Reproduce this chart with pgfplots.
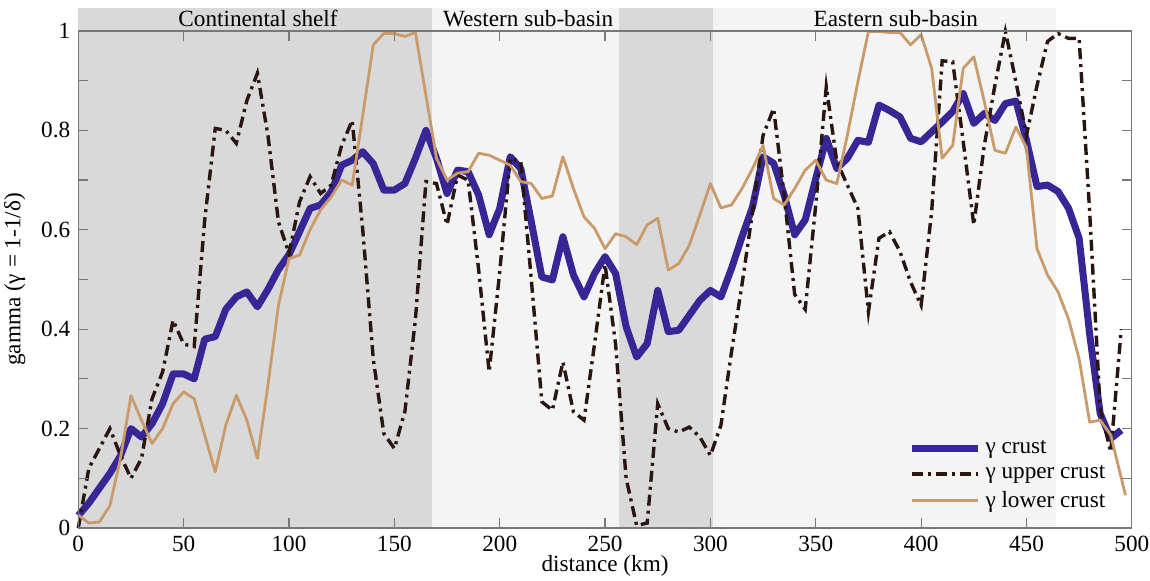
\documentclass[border=0pt]{standalone}
\usepackage{fontspec}
\setmainfont{Liberation Serif}
\usepackage{pgfplots}
\pgfplotsset{compat=1.18}
\definecolor{crustblue}{RGB}{56,38,150}
\definecolor{upperbrown}{RGB}{42,22,16}
\definecolor{lowertan}{RGB}{201,155,106}
\definecolor{bandDark}{RGB}{217,217,217}
\definecolor{bandLight}{RGB}{244,244,244}
\definecolor{axgray}{RGB}{120,120,120}
\begin{document}
\fontsize{11.6}{13.9}\selectfont
\begin{tikzpicture}
\begin{axis}[
  scale only axis, width=526.75pt, height=248.5pt,
  xmin=0, xmax=500, ymin=0, ymax=1,
  xtick={0,50,...,500},
  ytick={0,0.2,0.4,0.6,0.8,1},
  yticklabels={0,0.2,0.4,0.6,0.8,1},
  minor ytick={0.1,0.3,0.5,0.7,0.9},
  tick align=inside, major tick length=5pt, minor tick length=5pt,
  tick style={axgray, line width=0.6pt},
  axis line style={axgray, line width=0.6pt},
  axis on top, clip=false,
  /pgf/number format/assume math mode=true,
  tick label style={font=\fontsize{11.6}{13.9}\selectfont, black},
  label style={font=\fontsize{11.6}{13.9}\selectfont},
  xlabel={distance (km)},
  xlabel style={yshift=6pt},
  ylabel={gamma (γ = 1-1/δ)},
  legend style={at={(rel axis cs:0.979,0.026)}, anchor=south east, draw=none, fill=none,
    font=\fontsize{11.6}{13.9}\selectfont, row sep=0.5pt, inner sep=0pt, cells={anchor=west}},
  legend image code/.code={\draw[#1] (0pt,0pt) -- (33pt,0pt);},
]
\fill[bandDark] (0,0) rectangle (168,1.046);
\fill[bandLight] (168,0) rectangle (256.5,1.046);
\fill[bandDark] (256.5,0) rectangle (301.2,1.046);
\fill[bandLight] (301.2,0) rectangle (464,1.046);
\node[anchor=base] at (85.3,1.010) {Continental shelf};
\node[anchor=base] at (213.5,1.010) {Western sub-basin};
\node[anchor=base] at (388,1.010) {Eastern sub-basin};

\addplot[crustblue, line width=3.5pt, line join=round] coordinates {
(0,0.025)(5,0.05)(10,0.08)(15,0.11)(20,0.145)(25,0.20)(30,0.183)(35,0.21)(40,0.25)(45,0.31)
(50,0.31)(55,0.30)(60,0.38)(65,0.385)(70,0.44)(75,0.465)(80,0.475)(85,0.445)(90,0.48)(95,0.52)
(100,0.55)(105,0.596)(110,0.643)(115,0.65)(120,0.676)(125,0.73)(130,0.74)(135,0.757)(140,0.733)(145,0.68)
(150,0.68)(155,0.693)(160,0.744)(165,0.80)(170,0.744)(175,0.673)(180,0.72)(185,0.717)(190,0.67)(195,0.59)
(200,0.643)(205,0.747)(210,0.723)(215,0.616)(220,0.505)(225,0.499)(230,0.586)(235,0.509)(240,0.465)(245,0.512)
(250,0.546)(255,0.512)(260,0.405)(265,0.344)(270,0.371)(275,0.478)(280,0.395)(285,0.398)(290,0.428)(295,0.458)
(300,0.478)(305,0.465)(310,0.522)(315,0.586)(320,0.646)(325,0.747)(330,0.734)(335,0.67)(340,0.59)(345,0.62)
(350,0.703)(355,0.784)(360,0.723)(365,0.744)(370,0.78)(375,0.776)(380,0.851)(385,0.84)(390,0.827)(395,0.784)
(400,0.777)(405,0.797)(410,0.817)(415,0.838)(420,0.874)(425,0.814)(430,0.834)(435,0.82)(440,0.854)(445,0.859)
(450,0.78)(455,0.687)(460,0.69)(465,0.677)(470,0.643)(475,0.583)(480,0.39)(485,0.23)(490,0.18)(495,0.197)
};
\addlegendentry{γ crust}

\addplot[upperbrown, line width=1.7pt, dash pattern=on 5.5pt off 2.5pt on 1.5pt off 2.5pt] coordinates {
(0,0.0)(5,0.12)(10,0.16)(15,0.20)(20,0.146)(25,0.10)(30,0.14)(35,0.26)(40,0.314)(45,0.418)
(50,0.37)(55,0.365)(60,0.62)(65,0.804)(70,0.80)(75,0.774)(80,0.86)(85,0.915)(90,0.79)(95,0.616)
(100,0.552)(105,0.656)(110,0.707)(115,0.673)(120,0.69)(125,0.77)(130,0.82)(135,0.60)(140,0.34)(145,0.19)
(150,0.16)(155,0.234)(160,0.42)(165,0.697)(170,0.693)(175,0.61)(180,0.71)(185,0.70)(190,0.52)(195,0.314)
(200,0.515)(205,0.744)(210,0.737)(215,0.50)(220,0.254)(225,0.237)(230,0.334)(235,0.234)(240,0.217)(245,0.37)
(250,0.53)(255,0.37)(260,0.10)(265,0.005)(270,0.01)(275,0.25)(280,0.20)(285,0.193)(290,0.203)(295,0.183)
(300,0.146)(305,0.207)(310,0.354)(315,0.49)(320,0.636)(325,0.79)(330,0.844)(335,0.67)(340,0.47)(345,0.44)
(350,0.65)(355,0.888)(360,0.737)(365,0.69)(370,0.643)(375,0.435)(380,0.583)(385,0.596)(390,0.556)(395,0.495)
(400,0.448)(405,0.636)(410,0.94)(415,0.938)(420,0.777)(425,0.61)(430,0.77)(435,0.89)(440,0.999)(445,0.898)
(450,0.79)(455,0.89)(460,0.979)(465,0.995)(470,0.985)(475,0.985)(480,0.636)(485,0.24)(490,0.153)(495,0.40)
};
\addlegendentry{γ upper crust}

\addplot[lowertan, line width=1.4pt, line join=round] coordinates {
(0,0.026)(5,0.01)(10,0.012)(15,0.045)(20,0.14)(25,0.266)(30,0.217)(35,0.17)(40,0.20)(45,0.25)
(50,0.274)(55,0.26)(60,0.187)(65,0.113)(70,0.207)(75,0.267)(80,0.217)(85,0.14)(90,0.287)(95,0.448)
(100,0.542)(105,0.549)(110,0.60)(115,0.64)(120,0.666)(125,0.70)(130,0.69)(135,0.83)(140,0.972)(145,0.995)
(150,0.995)(155,0.989)(160,0.997)(165,0.87)(170,0.744)(175,0.70)(180,0.714)(185,0.717)(190,0.754)(195,0.75)
(200,0.74)(205,0.73)(210,0.697)(215,0.693)(220,0.663)(225,0.668)(230,0.747)(235,0.683)(240,0.626)(245,0.603)
(250,0.562)(255,0.592)(260,0.586)(265,0.57)(270,0.61)(275,0.623)(280,0.519)(285,0.532)(290,0.569)(295,0.63)
(300,0.693)(305,0.644)(310,0.65)(315,0.683)(320,0.723)(325,0.77)(330,0.663)(335,0.65)(340,0.683)(345,0.72)
(350,0.74)(355,0.70)(360,0.693)(365,0.79)(370,0.898)(375,0.999)(380,0.999)(385,0.997)(390,0.997)(395,0.972)
(400,0.993)(405,0.925)(410,0.744)(415,0.77)(420,0.925)(425,0.948)(430,0.858)(435,0.76)(440,0.754)(445,0.807)
(450,0.765)(455,0.562)(460,0.509)(465,0.475)(470,0.42)(475,0.34)(480,0.213)(485,0.217)(490,0.187)(497,0.066)
};
\addlegendentry{γ lower crust}
\end{axis}
\pgfresetboundingbox
\path (-39.15pt,-26.5pt) rectangle (535.85pt,264pt);
\end{tikzpicture}
\end{document}
